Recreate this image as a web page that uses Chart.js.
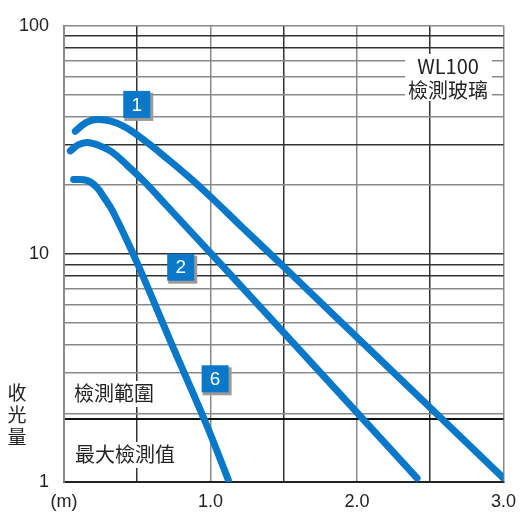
<!DOCTYPE html>
<html>
<head>
<meta charset="utf-8">
<script src="https://cdn.jsdelivr.net/npm/chart.js@4"></script>
<style>
  html, body { margin: 0; padding: 0; background: #fff; }
  #wrap { width: 525px; height: 518px; position: relative; }
</style>
</head>
<body>
<div id="wrap"><canvas id="chart"></canvas></div>
<script>
// curve data: [distance m, received light]
const curve1X = [0.077, 0.15, 0.224, 0.32, 0.42, 0.55, 0.7, 0.85, 1.0, 1.2, 1.45, 2.2, 3.0];
const curve1Y = [34.5, 37.6, 38.8, 38.2, 35.9, 31.4, 26.3, 21.8, 17.8, 13.4, 9.42, 3.24, 1.04];
const curve2X = [0.043, 0.1, 0.156, 0.24, 0.33, 0.43, 0.55, 0.7, 1.45, 2.41];
const curve2Y = [28.3, 30.1, 30.8, 29.9, 27.9, 24.5, 20.7, 16.3, 4.9, 1.04];
const curve6X = [0.066, 0.156, 0.22, 0.27, 0.33, 0.474, 0.6, 0.73, 0.97, 1.122];
const curve6Y = [21.2, 21.0, 19.7, 17.8, 15.5, 9.93, 6.46, 4.09, 1.80, 1.02];

const curveLabels = ['1', '2', '6'];
const labelX = [0.5, 0.8, 1.035];
const labelY = [45, 8.7, 2.82];

// gridlines on the log axis, plus the max detection line
const yGridValues = [1, 1.88, 2, 3, 4, 5, 6, 7, 8, 9, 10, 20, 30, 40, 50, 60, 70, 80, 90, 100];
const yTickLabels = { 1: '1', 10: '10', 100: '100' };
const xTickLabels = { 0: '(m)', 1: '1.0', 2: '2.0', 3: '3.0' };

const blue = '#0a78c8';
const darkGrid = ['10', '9', '8', '90', '80', '30'];

function toPts(xs, ys) {
  return xs.map((x, i) => ({ x: x, y: ys[i] }));
}

function curve(xs, ys) {
  return {
    data: toPts(xs, ys),
    borderColor: blue,
    borderWidth: 7,
    borderCapStyle: 'round',
    borderJoinStyle: 'round',
    pointRadius: 0,
    tension: 0.4,
    fill: false
  };
}

const textCJK = '"Noto Sans CJK TC", "Noto Sans CJK JP", sans-serif';

const extras = {
  id: 'extras',
  beforeDatasetsDraw(chart) {
    const ctx = chart.ctx;
    ctx.save();
    ctx.font = '20px ' + textCJK;
    ctx.textBaseline = 'middle';
    // white-backed notes
    const notes = [
      { lines: ['WL100', '檢測玻璃'], x: 448, y: 66, box: [405, 54, 87, 47], align: 'center' },
      { lines: ['檢測範圍'], x: 74, y: 393, box: [70, 381, 92, 26], align: 'left' },
      { lines: ['最大檢測值'], x: 75, y: 454, box: [71, 442, 116, 26], align: 'left' }
    ];
    notes.forEach(n => {
      ctx.fillStyle = '#fff';
      ctx.fillRect(n.box[0], n.box[1], n.box[2], n.box[3]);
      ctx.fillStyle = '#222';
      ctx.textAlign = n.align;
      n.lines.forEach((t, i) => ctx.fillText(t, n.x, n.y + i * 24));
    });
    // vertical axis title
    ctx.textAlign = 'center';
    ctx.font = '19px ' + textCJK;
    ['收', '光', '量'].forEach((c, i) => ctx.fillText(c, 17, 393 + i * 22));
    ctx.restore();
  },
  afterDatasetsDraw(chart) {
    const ctx = chart.ctx;
    const xs = chart.scales.x, ys = chart.scales.y;
    ctx.save();
    curveLabels.forEach((t, i) => {
      const cx = xs.getPixelForValue(labelX[i]);
      const cy = ys.getPixelForValue(labelY[i]);
      ctx.fillStyle = '#9a9a9a';
      ctx.fillRect(cx - 13, cy - 12, 29, 28);
      ctx.fillStyle = blue;
      ctx.fillRect(cx - 14, cy - 14, 27, 27);
      ctx.fillStyle = '#fff';
      ctx.font = '19px "Liberation Sans", Arial, sans-serif';
      ctx.textAlign = 'center';
      ctx.textBaseline = 'middle';
      ctx.fillText(t, cx - 0.5, cy + 0.5);
    });
    ctx.restore();
  }
};

new Chart(document.getElementById('chart'), {
  type: 'line',
  data: {
    datasets: [curve(curve1X, curve1Y), curve(curve2X, curve2Y), curve(curve6X, curve6Y)]
  },
  options: {
    responsive: true,
    maintainAspectRatio: false,
    animation: false,
    layout: { padding: { top: 20, right: 20, left: 0, bottom: 0 } },
    plugins: { legend: { display: false }, tooltip: { enabled: false } },
    scales: {
      x: {
        type: 'linear',
        min: 0,
        max: 3,
        afterFit(scale) { scale.height = 36; },
        ticks: {
          stepSize: 0.5,
          autoSkip: false,
          maxRotation: 0,
          padding: 9,
          color: '#222',
          font: { family: '"Liberation Sans", Arial, sans-serif', size: 18 },
          callback: v => xTickLabels[v] || ''
        },
        grid: {
          drawTicks: false,
          color: ctx => (Math.round(ctx.tick.value * 2) % 2 === 1 ? '#333' : '#8a8a8a'),
          lineWidth: 1.5
        },
        border: { color: '#222', width: 2 }
      },
      y: {
        type: 'logarithmic',
        min: 1,
        max: 100,
        afterFit(scale) { scale.width = 64; },
        afterBuildTicks(scale) {
          scale.ticks = yGridValues.map(v => ({ value: v }));
        },
        ticks: {
          autoSkip: false,
          padding: 15,
          color: '#222',
          font: { family: '"Liberation Sans", Arial, sans-serif', size: 18 },
          callback: v => yTickLabels[v] || ''
        },
        grid: {
          drawTicks: false,
          color: ctx => {
            if (ctx.tick.value === 1.88) return '#111';
            return darkGrid.includes(String(ctx.tick.value)) ? '#333' : '#8a8a8a';
          },
          lineWidth: ctx => (ctx.tick.value === 1.88 ? 2 : 1.5)
        },
        border: { color: '#8a8a8a', width: 2 }
      }
    }
  },
  plugins: [extras]
});
</script>
</body>
</html>
